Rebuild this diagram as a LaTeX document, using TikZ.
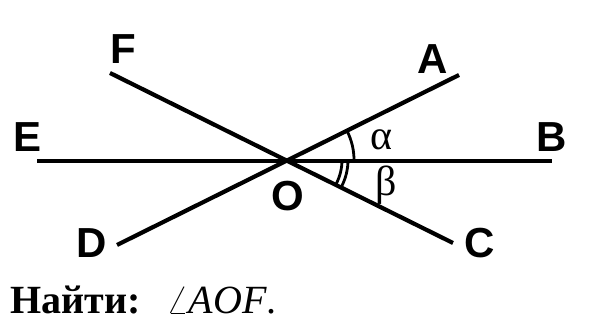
\documentclass[tikz,border=0pt]{standalone}
\usepackage{fontspec}
\setmainfont{Liberation Serif}
\newfontfamily\labelfont{Liberation Sans}
\usetikzlibrary{angles}
\tikzset{
  ray/.style={line width=2.1pt,black},
  point/.style={font=\labelfont\bfseries\fontsize{21}{24}\selectfont,inner sep=0pt},
  greek/.style={font=\fontsize{21}{24}\selectfont,inner sep=0pt},
  angarc/.style={draw,line width=1.4pt}
}

\begin{document}
\begin{tikzpicture}[x=0.5pt,y=0.5pt]
  \useasboundingbox (0,0) rectangle (616,324);
  % ends of the three lines
  \coordinate (O) at (290,164);
  \coordinate (E) at (37,163);
  \coordinate (B) at (552,163);
  \coordinate (F) at (110,251);
  \coordinate (C) at (453,81);
  \coordinate (A) at (459,249);
  \coordinate (D) at (117,79);
  \draw[ray] (E) -- (B);
  \draw[ray] (F) -- (C);
  \draw[ray] (D) -- (A);
  % angles
  \pic[angarc,angle radius=32pt] {angle=B--O--A};
  \pic[angarc,angle radius=26pt] {angle=C--O--B};
  \pic[angarc,angle radius=29pt] {angle=C--O--B};
  % labels
  \node[point] (lF) at (123,275) {F};
  \node[point] (lA) at (433,265) {A};
  \node[point] (lE) at (28,187) {E};
  \node[point] (lB) at (552,187) {B};
  \node[point] (lD) at (92,81) {D};
  \node[point] (lC) at (480,81) {C};
  \node[point] (lO) at (288,128) {O};
  \node[greek] (alpha) at (381,184) {α};
  \node[greek] (beta) at (386,139) {β};
  \node[anchor=base west,inner sep=0pt,font=\fontsize{20}{24}\selectfont] (task) at (10,10)
    {\textbf{Найти:}\hspace{13pt}$\angle$\textit{AOF}.};
\end{tikzpicture}
\end{document}
